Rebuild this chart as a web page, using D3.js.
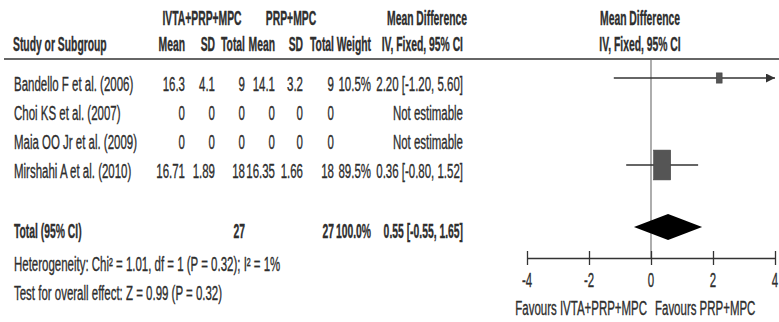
<!DOCTYPE html>
<html>
<head>
<meta charset="utf-8">
<script src="https://cdn.jsdelivr.net/npm/d3@7"></script>
<style>
  html, body { margin: 0; padding: 0; background: #fff; }
  svg { display: block; }
  text { font-family: "Liberation Sans", Arial, sans-serif; fill: #2e2e2e; stroke: #2e2e2e; stroke-width: 0.25px; }
</style>
</head>
<body>
<svg id="chart" width="779" height="322"></svg>
<script>
// Study-level data
const studies   = ["Bandello F et al. (2006)", "Choi KS et al. (2007)", "Maia OO Jr et al. (2009)", "Mirshahi A et al. (2010)"];
const expMean   = [16.3, 0, 0, 16.71];
const expSD     = [4.1, 0, 0, 1.89];
const expTotal  = [9, 0, 0, 18];
const ctlMean   = [14.1, 0, 0, 16.35];
const ctlSD     = [3.2, 0, 0, 1.66];
const ctlTotal  = [9, 0, 0, 18];
const weights   = [10.5, null, null, 89.5];
const meanDiff  = [2.20, null, null, 0.36];
const ciLow     = [-1.20, null, null, -0.80];
const ciHigh    = [5.60, null, null, 1.52];

// Pooled estimate
const pooledLabel  = "Total (95% CI)";
const pooledExpN   = 27;
const pooledCtlN   = 27;
const pooledWeight = 100.0;
const pooledMD     = 0.55;
const pooledLow    = -0.55;
const pooledHigh   = 1.65;

const heterogeneityText = "Heterogeneity: Chi² = 1.01, df = 1 (P = 0.32); I² = 1%";
const overallEffectText = "Test for overall effect: Z = 0.99 (P = 0.32)";

const axisTicks   = [-4, -2, 0, 2, 4];
const favoursLeft = "Favours IVTA+PRP+MPC";
const favoursRight = "Favours PRP+MPC";

const groupHeaders = ["IVTA+PRP+MPC", "PRP+MPC", "Mean Difference", "Mean Difference"];
const colHeaders = ["Study or Subgroup", "Mean", "SD", "Total", "Mean", "SD", "Total", "Weight", "IV, Fixed, 95% CI", "IV, Fixed, 95% CI"];

// ---- layout ----
const svg = d3.select("#chart");
const FS = 14;        // font size
const SX = 0.82;      // narrow face: horizontally condensed
const SXB = 0.74;     // bold runs are condensed a little more
const SY = 1.4;       // tall letterforms

function label(g, x, y, str, anchor, bold) {
  return g.append("text")
    .attr("transform", `translate(${x},${y}) scale(${bold ? SXB : SX},${SY})`)
    .attr("dy", "0.35em")
    .attr("text-anchor", anchor || "start")
    .attr("font-size", FS)
    .attr("font-weight", bold ? "bold" : "normal")
    .text(str);
}

// right edges of the numeric columns
const colRight = { m1: 185, sd1: 215, n1: 245, m2: 275, sd2: 303, n2: 334, w: 371, ci: 463 };
const studyX = 14;

const x = d3.scaleLinear().domain([-4, 4]).range([527, 775]);
const rowY = d3.scalePoint().domain(d3.range(studies.length)).range([84, 171]);
const markOffset = -6;
const yPooled = 231;
const yHeader1 = 18, yHeader2 = 44, yRule = 59, yAxis = 258;
const boxSize = d3.scaleSqrt().domain([0, 100]).range([0, 18]);

const g = svg.append("g");

// headers
label(g, 202, yHeader1, groupHeaders[0], "middle", true);
label(g, 291, yHeader1, groupHeaders[1], "middle", true);
label(g, 427, yHeader1, groupHeaders[2], "middle", true);
label(g, 640, yHeader1, groupHeaders[3], "middle", true);

label(g, studyX - 1, yHeader2, colHeaders[0], "start", true);
label(g, colRight.m1, yHeader2, colHeaders[1], "end", true);
label(g, colRight.sd1, yHeader2, colHeaders[2], "end", true);
label(g, colRight.n1, yHeader2, colHeaders[3], "end", true);
label(g, colRight.m2, yHeader2, colHeaders[4], "end", true);
label(g, colRight.sd2, yHeader2, colHeaders[5], "end", true);
label(g, colRight.n2, yHeader2, colHeaders[6], "end", true);
label(g, colRight.w, yHeader2, colHeaders[7], "end", true);
label(g, colRight.ci, yHeader2, colHeaders[8], "end", true);
label(g, 640, yHeader2, colHeaders[9], "middle", true);

g.append("line")
  .attr("x1", 4).attr("x2", 779)
  .attr("y1", yRule).attr("y2", yRule)
  .attr("stroke", "#333").attr("stroke-width", 1.6);

// zero line
g.append("line")
  .attr("x1", x(0)).attr("x2", x(0))
  .attr("y1", yRule + 1).attr("y2", yAxis)
  .attr("stroke", "#777").attr("stroke-width", 1.2);

const fmt2 = d3.format(".2f");
const ciText = (m, l, h) => `${fmt2(m)} [${fmt2(l)}, ${fmt2(h)}]`.replace(/\u2212/g, "-");

// study rows
studies.forEach((s, i) => {
  const y = rowY(i);
  label(g, studyX, y, s, "start");
  label(g, colRight.m1, y, String(expMean[i]), "end");
  label(g, colRight.sd1, y, String(expSD[i]), "end");
  label(g, colRight.n1, y, String(expTotal[i]), "end");
  label(g, colRight.m2, y, String(ctlMean[i]), "end");
  label(g, colRight.sd2, y, String(ctlSD[i]), "end");
  label(g, colRight.n2, y, String(ctlTotal[i]), "end");
  if (weights[i] != null) {
    label(g, colRight.w, y, d3.format(".1f")(weights[i]) + "%", "end");
    label(g, colRight.ci, y, ciText(meanDiff[i], ciLow[i], ciHigh[i]), "end");
  } else {
    label(g, colRight.ci, y, "Not estimable", "end");
  }
});

// arrowhead marker for clipped intervals
svg.append("defs").append("marker")
  .attr("id", "arrow")
  .attr("viewBox", "0 0 10 10")
  .attr("refX", 10).attr("refY", 5)
  .attr("markerWidth", 9).attr("markerHeight", 9)
  .attr("markerUnits", "userSpaceOnUse")
  .attr("orient", "auto")
  .append("path").attr("d", "M0,0 L10,5 L0,10 z").attr("fill", "#333");

// study marks
const [dMin, dMax] = x.domain();
studies.forEach((s, i) => {
  if (meanDiff[i] == null) return;
  const y = rowY(i) + markOffset;
  const lo = Math.max(ciLow[i], dMin), hi = Math.min(ciHigh[i], dMax);
  const ln = g.append("line")
    .attr("x1", x(lo)).attr("x2", x(hi))
    .attr("y1", y).attr("y2", y)
    .attr("stroke", "#333").attr("stroke-width", 1.6);
  if (ciHigh[i] > dMax) ln.attr("marker-end", "url(#arrow)");
  const w = boxSize(weights[i]);
  const h = w * 1.75;
  g.append("rect")
    .attr("x", x(meanDiff[i]) - w / 2).attr("y", y - h / 2)
    .attr("width", w).attr("height", h)
    .attr("fill", "#555").attr("stroke", "#444").attr("stroke-width", 0.6);
});

// pooled row
label(g, studyX, yPooled, pooledLabel, "start", true);
label(g, colRight.n1, yPooled, String(pooledExpN), "end", true);
label(g, colRight.n2, yPooled, String(pooledCtlN), "end", true);
label(g, colRight.w, yPooled, d3.format(".1f")(pooledWeight) + "%", "end", true);
label(g, colRight.ci, yPooled, ciText(pooledMD, pooledLow, pooledHigh), "end", true);

const yd = yPooled + markOffset + 2;
const halfH = 13;
g.append("path")
  .attr("d", `M${x(pooledLow)},${yd} L${x(pooledMD)},${yd - halfH} L${x(pooledHigh)},${yd} L${x(pooledMD)},${yd + halfH} Z`)
  .attr("fill", "#000");

label(g, studyX, 264, heterogeneityText, "start");
label(g, studyX, 293, overallEffectText, "start");

// axis
const axis = d3.axisBottom(x)
  .tickValues(axisTicks)
  .tickSize(0)
  .tickPadding(0)
  .tickFormat(d => String(d));
const ax = g.append("g").attr("transform", `translate(0,${yAxis})`).call(axis);
ax.select(".domain").attr("stroke", "#333").attr("stroke-width", 1.6);
ax.selectAll(".tick line").attr("y1", -7).attr("y2", 7).attr("stroke", "#333").attr("stroke-width", 1.3);
ax.selectAll(".tick text").remove();
axisTicks.forEach(t => label(ax, x(t), 22, String(t), "middle"));

label(g, 647, 308, favoursLeft, "end");
label(g, 655, 308, favoursRight, "start");
</script>
</body>
</html>
